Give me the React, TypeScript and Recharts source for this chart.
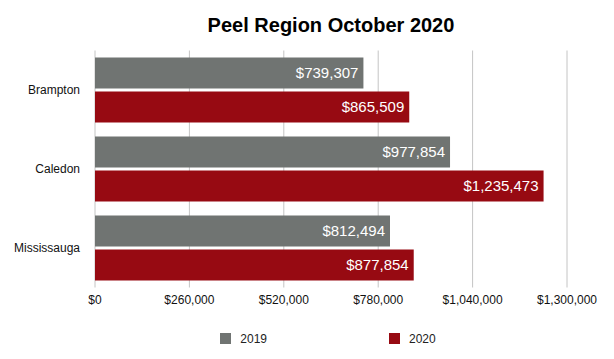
import {
  Bar,
  BarChart,
  CartesianGrid,
  LabelList,
  Legend,
  XAxis,
  YAxis,
} from "recharts";

const cities = ["Brampton", "Caledon", "Mississauga"];
const values2019 = [739307, 977854, 812494];
const values2020 = [865509, 1235473, 877854];
const xTicks = [0, 260000, 520000, 780000, 1040000, 1300000];

const GRAY = "#707472";
const RED = "#970a12";
const FONT = "'Liberation Sans', Arial, sans-serif";

const data = cities.map((name, i) => ({
  name,
  y2019: values2019[i],
  y2020: values2020[i],
}));

const money = (v: number) => `$${Number(v).toLocaleString("en-US")}`;

function LegendRow() {
  const items = [
    { label: "2019", color: GRAY },
    { label: "2020", color: RED },
  ];
  return (
    <div
      style={{
        display: "flex",
        justifyContent: "center",
        gap: 122,
        height: 20,
        lineHeight: "20px",
        paddingLeft: 89,
        fontSize: 12,
        color: "#222",
      }}
    >
      {items.map((it) => (
        <div key={it.label} style={{ display: "flex", alignItems: "center" }}>
          <span
            style={{
              display: "inline-block",
              width: 11,
              height: 11,
              background: it.color,
              marginRight: 9,
            }}
          />
          {it.label}
        </div>
      ))}
    </div>
  );
}

export default function App() {
  return (
    <div
      style={{
        position: "absolute",
        left: 0,
        top: 0,
        width: 614,
        height: 359,
        background: "#fff",
        fontFamily: FONT,
      }}
    >
      <div
        style={{
          position: "absolute",
          left: 95,
          width: 472,
          top: 12,
          textAlign: "center",
          fontSize: 20,
          fontWeight: "bold",
          color: "#000",
          lineHeight: "26px",
        }}
      >
        Peel Region October 2020
      </div>
      <BarChart
        width={614}
        height={359}
        data={data}
        layout="vertical"
        margin={{ top: 50.5, right: 47, bottom: 10.5, left: 0 }}
        barSize={31}
        barGap={3}
      >
        <CartesianGrid horizontal={false} stroke="#c4c4c4" />
        <XAxis
          type="number"
          domain={[0, 1300000]}
          ticks={xTicks}
          tickFormatter={money}
          axisLine={false}
          tickLine={false}
          tickSize={0}
          tickMargin={8}
          height={41}
          tick={{ fill: "#111", fontSize: 12, fontFamily: FONT }}
          interval={0}
        />
        <YAxis
          type="category"
          dataKey="name"
          width={95}
          axisLine={false}
          tickLine={false}
          tickSize={0}
          tickMargin={15}
          tick={{ fill: "#111", fontSize: 12, fontFamily: FONT }}
        />
        <Legend verticalAlign="bottom" content={() => <LegendRow />} />
        <Bar dataKey="y2019" name="2019" fill={GRAY} isAnimationActive={false}>
          <LabelList
            dataKey="y2019"
            position="insideRight"
            offset={5}
            formatter={(v: any) => money(v)}
            fill="#fff"
            fontSize={15}
            fontFamily={FONT}
          />
        </Bar>
        <Bar dataKey="y2020" name="2020" fill={RED} isAnimationActive={false}>
          <LabelList
            dataKey="y2020"
            position="insideRight"
            offset={5}
            formatter={(v: any) => money(v)}
            fill="#fff"
            fontSize={15}
            fontFamily={FONT}
          />
        </Bar>
      </BarChart>
    </div>
  );
}
